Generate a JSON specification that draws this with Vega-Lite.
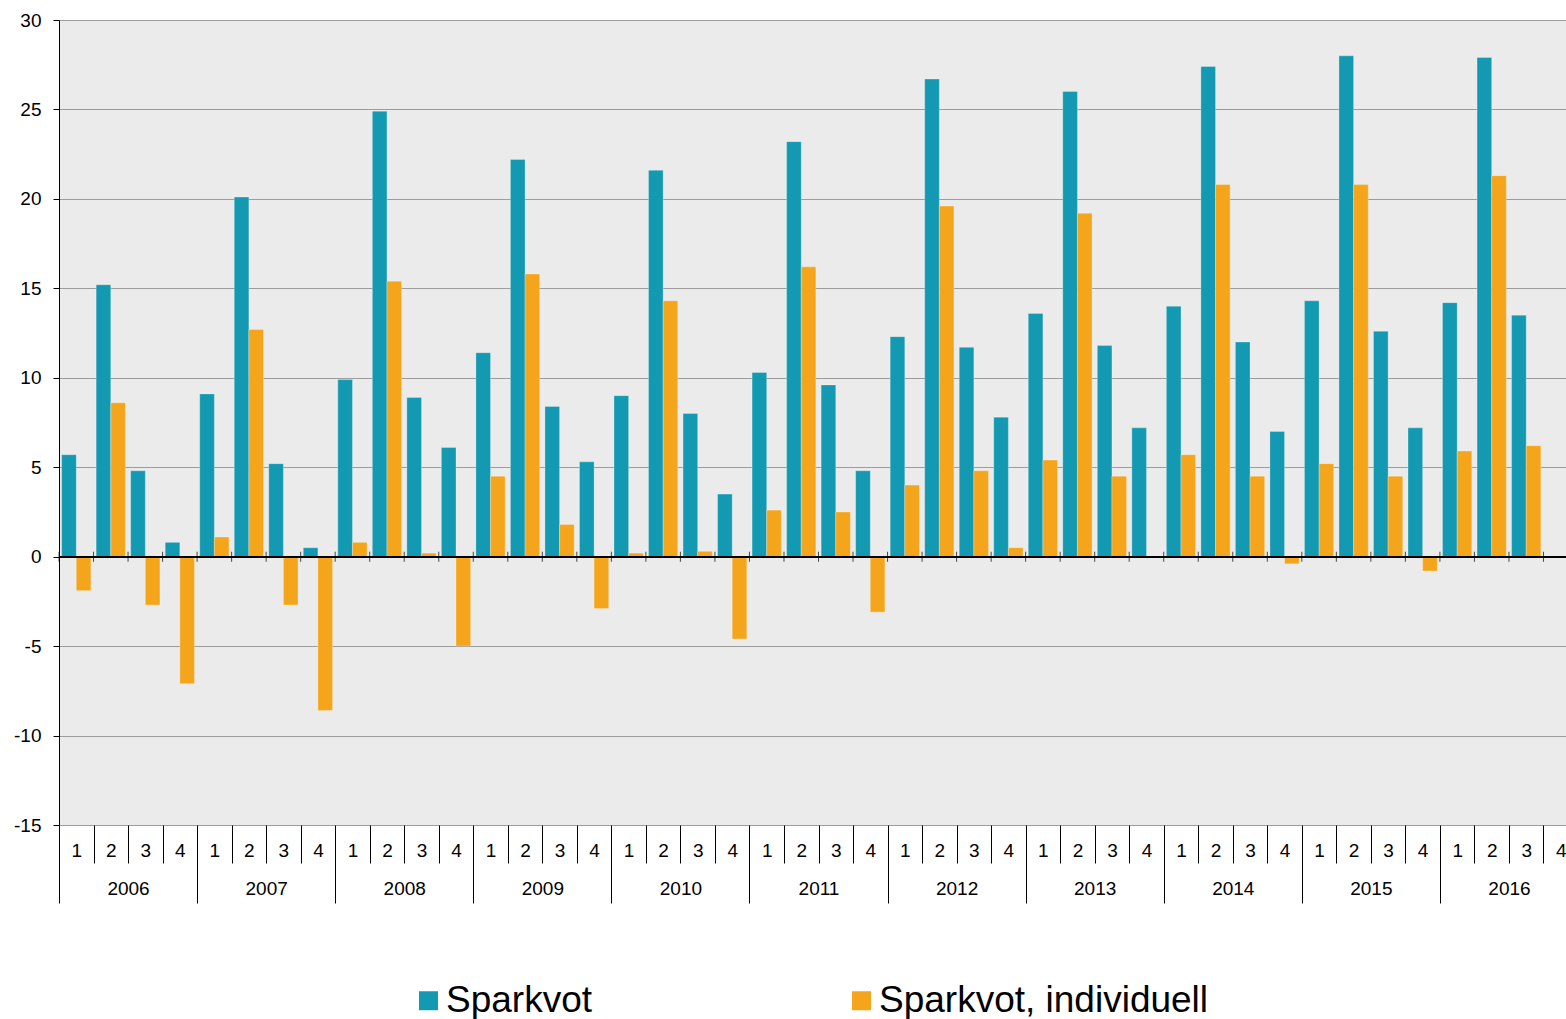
{
  "$schema": "https://vega.github.io/schema/vega-lite/v6.json",
  "width": 1507,
  "height": 805,
  "autosize": "none",
  "padding": {"left": 59, "top": 20, "right": 0, "bottom": 194},
  "background": "white",
  "config": {"view": {"fill": "#ebebeb", "stroke": null}},
  "data": {"values": [
    {"key":"2006-1","year":"2006","series":"Sparkvot","value":5.7},{"key":"2006-1","year":"2006","series":"Sparkvot, individuell","value":-1.9},
    {"key":"2006-2","year":"2006","series":"Sparkvot","value":15.2},{"key":"2006-2","year":"2006","series":"Sparkvot, individuell","value":8.6},
    {"key":"2006-3","year":"2006","series":"Sparkvot","value":4.8},{"key":"2006-3","year":"2006","series":"Sparkvot, individuell","value":-2.7},
    {"key":"2006-4","year":"2006","series":"Sparkvot","value":0.8},{"key":"2006-4","year":"2006","series":"Sparkvot, individuell","value":-7.1},
    {"key":"2007-1","year":"2007","series":"Sparkvot","value":9.1},{"key":"2007-1","year":"2007","series":"Sparkvot, individuell","value":1.1},
    {"key":"2007-2","year":"2007","series":"Sparkvot","value":20.1},{"key":"2007-2","year":"2007","series":"Sparkvot, individuell","value":12.7},
    {"key":"2007-3","year":"2007","series":"Sparkvot","value":5.2},{"key":"2007-3","year":"2007","series":"Sparkvot, individuell","value":-2.7},
    {"key":"2007-4","year":"2007","series":"Sparkvot","value":0.5},{"key":"2007-4","year":"2007","series":"Sparkvot, individuell","value":-8.6},
    {"key":"2008-1","year":"2008","series":"Sparkvot","value":9.9},{"key":"2008-1","year":"2008","series":"Sparkvot, individuell","value":0.8},
    {"key":"2008-2","year":"2008","series":"Sparkvot","value":24.9},{"key":"2008-2","year":"2008","series":"Sparkvot, individuell","value":15.4},
    {"key":"2008-3","year":"2008","series":"Sparkvot","value":8.9},{"key":"2008-3","year":"2008","series":"Sparkvot, individuell","value":0.2},
    {"key":"2008-4","year":"2008","series":"Sparkvot","value":6.1},{"key":"2008-4","year":"2008","series":"Sparkvot, individuell","value":-5.0},
    {"key":"2009-1","year":"2009","series":"Sparkvot","value":11.4},{"key":"2009-1","year":"2009","series":"Sparkvot, individuell","value":4.5},
    {"key":"2009-2","year":"2009","series":"Sparkvot","value":22.2},{"key":"2009-2","year":"2009","series":"Sparkvot, individuell","value":15.8},
    {"key":"2009-3","year":"2009","series":"Sparkvot","value":8.4},{"key":"2009-3","year":"2009","series":"Sparkvot, individuell","value":1.8},
    {"key":"2009-4","year":"2009","series":"Sparkvot","value":5.3},{"key":"2009-4","year":"2009","series":"Sparkvot, individuell","value":-2.9},
    {"key":"2010-1","year":"2010","series":"Sparkvot","value":9.0},{"key":"2010-1","year":"2010","series":"Sparkvot, individuell","value":0.2},
    {"key":"2010-2","year":"2010","series":"Sparkvot","value":21.6},{"key":"2010-2","year":"2010","series":"Sparkvot, individuell","value":14.3},
    {"key":"2010-3","year":"2010","series":"Sparkvot","value":8.0},{"key":"2010-3","year":"2010","series":"Sparkvot, individuell","value":0.3},
    {"key":"2010-4","year":"2010","series":"Sparkvot","value":3.5},{"key":"2010-4","year":"2010","series":"Sparkvot, individuell","value":-4.6},
    {"key":"2011-1","year":"2011","series":"Sparkvot","value":10.3},{"key":"2011-1","year":"2011","series":"Sparkvot, individuell","value":2.6},
    {"key":"2011-2","year":"2011","series":"Sparkvot","value":23.2},{"key":"2011-2","year":"2011","series":"Sparkvot, individuell","value":16.2},
    {"key":"2011-3","year":"2011","series":"Sparkvot","value":9.6},{"key":"2011-3","year":"2011","series":"Sparkvot, individuell","value":2.5},
    {"key":"2011-4","year":"2011","series":"Sparkvot","value":4.8},{"key":"2011-4","year":"2011","series":"Sparkvot, individuell","value":-3.1},
    {"key":"2012-1","year":"2012","series":"Sparkvot","value":12.3},{"key":"2012-1","year":"2012","series":"Sparkvot, individuell","value":4.0},
    {"key":"2012-2","year":"2012","series":"Sparkvot","value":26.7},{"key":"2012-2","year":"2012","series":"Sparkvot, individuell","value":19.6},
    {"key":"2012-3","year":"2012","series":"Sparkvot","value":11.7},{"key":"2012-3","year":"2012","series":"Sparkvot, individuell","value":4.8},
    {"key":"2012-4","year":"2012","series":"Sparkvot","value":7.8},{"key":"2012-4","year":"2012","series":"Sparkvot, individuell","value":0.5},
    {"key":"2013-1","year":"2013","series":"Sparkvot","value":13.6},{"key":"2013-1","year":"2013","series":"Sparkvot, individuell","value":5.4},
    {"key":"2013-2","year":"2013","series":"Sparkvot","value":26.0},{"key":"2013-2","year":"2013","series":"Sparkvot, individuell","value":19.2},
    {"key":"2013-3","year":"2013","series":"Sparkvot","value":11.8},{"key":"2013-3","year":"2013","series":"Sparkvot, individuell","value":4.5},
    {"key":"2013-4","year":"2013","series":"Sparkvot","value":7.2},{"key":"2013-4","year":"2013","series":"Sparkvot, individuell","value":null},
    {"key":"2014-1","year":"2014","series":"Sparkvot","value":14.0},{"key":"2014-1","year":"2014","series":"Sparkvot, individuell","value":5.7},
    {"key":"2014-2","year":"2014","series":"Sparkvot","value":27.4},{"key":"2014-2","year":"2014","series":"Sparkvot, individuell","value":20.8},
    {"key":"2014-3","year":"2014","series":"Sparkvot","value":12.0},{"key":"2014-3","year":"2014","series":"Sparkvot, individuell","value":4.5},
    {"key":"2014-4","year":"2014","series":"Sparkvot","value":7.0},{"key":"2014-4","year":"2014","series":"Sparkvot, individuell","value":-0.4},
    {"key":"2015-1","year":"2015","series":"Sparkvot","value":14.3},{"key":"2015-1","year":"2015","series":"Sparkvot, individuell","value":5.2},
    {"key":"2015-2","year":"2015","series":"Sparkvot","value":28.0},{"key":"2015-2","year":"2015","series":"Sparkvot, individuell","value":20.8},
    {"key":"2015-3","year":"2015","series":"Sparkvot","value":12.6},{"key":"2015-3","year":"2015","series":"Sparkvot, individuell","value":4.5},
    {"key":"2015-4","year":"2015","series":"Sparkvot","value":7.2},{"key":"2015-4","year":"2015","series":"Sparkvot, individuell","value":-0.8},
    {"key":"2016-1","year":"2016","series":"Sparkvot","value":14.2},{"key":"2016-1","year":"2016","series":"Sparkvot, individuell","value":5.9},
    {"key":"2016-2","year":"2016","series":"Sparkvot","value":27.9},{"key":"2016-2","year":"2016","series":"Sparkvot, individuell","value":21.3},
    {"key":"2016-3","year":"2016","series":"Sparkvot","value":13.5},{"key":"2016-3","year":"2016","series":"Sparkvot, individuell","value":6.2},
    {"key":"2016-4","year":"2016","series":"Sparkvot","value":null},{"key":"2016-4","year":"2016","series":"Sparkvot, individuell","value":null}
  ]},
  "layer": [
    {
      "layer": [
        {
          "mark": {"type": "bar", "stroke": "white", "strokeOpacity": 0.35, "strokeWidth": 0.8},
          "encoding": {
            "x": {"field": "key", "type": "nominal",
              "scale": {"range": [0, 1519], "paddingInner": 0, "paddingOuter": 0},
              "axis": {"title": null, "labelExpr": "split(datum.value,'-')[1]", "labelAngle": 0, "tickBand": "extent", "tickSize": 38, "tickColor": "black", "tickWidth": 1, "labelPadding": -22, "labelFont": "Liberation Sans", "labelFontSize": 19, "labelColor": "black", "domain": false, "grid": false, "labelOverlap": false}},
            "xOffset": {"field": "series", "type": "nominal", "scale": {"paddingOuter": 0.18, "paddingInner": 0}},
            "y": {"field": "value", "type": "quantitative",
              "scale": {"domain": [-15, 30], "nice": false},
              "axis": {"title": null, "values": [-15, -10, -5, 0, 5, 10, 15, 20, 25, 30], "labelExpr": "replace(datum.label, '\u2212', '-')", "grid": true, "gridColor": "#9c9c9c", "gridWidth": 1, "domainColor": "black", "tickColor": "black", "tickSize": 6, "labelFont": "Liberation Sans", "labelFontSize": 19, "labelColor": "black", "labelPadding": 12}},
            "color": {"field": "series", "type": "nominal",
              "scale": {"domain": ["Sparkvot", "Sparkvot, individuell"], "range": ["#1399b1", "#f5a51b"]},
              "legend": {"title": null, "orient": "none", "legendX": 351, "legendY": 962, "direction": "horizontal", "columns": 2, "columnPadding": 250, "symbolType": "square", "symbolSize": 361, "symbolStrokeWidth": 0, "labelFont": "Liberation Sans", "labelFontSize": 37, "labelColor": "black", "labelOffset": -1, "padding": 0, "labelLimit": 600}}
          }
        },
        {
          "mark": {"type": "rule", "color": "black", "strokeWidth": 1},
          "encoding": {"y": {"datum": 0}}
        },
        {
          "transform": [{"filter": "datum.series == 'Sparkvot'"}],
          "mark": {"type": "tick", "orient": "vertical", "size": 10, "thickness": 1, "color": "black"},
          "encoding": {
            "x": {"field": "key", "type": "nominal", "bandPosition": 0},
            "y": {"datum": 0}
          }
        }
      ]
    },
    {
      "mark": {"type": "point", "opacity": 0},
      "encoding": {
        "x": {"field": "year", "type": "nominal",
          "scale": {"range": [0, 1519], "paddingInner": 0, "paddingOuter": 0},
          "axis": {"orient": "bottom", "offset": 33, "title": null, "labelAngle": 0, "tickBand": "extent", "tickSize": 45, "tickColor": "black", "tickWidth": 1, "labelPadding": -24, "labelFont": "Liberation Sans", "labelFontSize": 19, "labelColor": "black", "domain": false, "grid": false}},
        "y": {"field": "value", "type": "quantitative"}
      }
    }
  ],
  "resolve": {"scale": {"x": "independent"}}
}
